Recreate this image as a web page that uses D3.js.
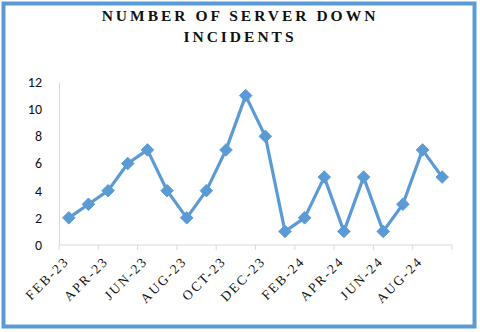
<!DOCTYPE html>
<html>
<head>
<meta charset="utf-8">
<script src="https://cdn.jsdelivr.net/npm/d3@7"></script>
<style>
  body { margin: 0; background: #fff; }
</style>
</head>
<body>
<svg id="chart" width="480" height="332"></svg>
<script>
// monthly incident counts, Feb 2023 .. Sep 2024
let months = ["FEB-23", "MAR-23", "APR-23", "MAY-23", "JUN-23", "JUL-23", "AUG-23", "SEP-23",
    "OCT-23", "NOV-23", "DEC-23", "JAN-24", "FEB-24", "MAR-24", "APR-24", "MAY-24",
    "JUN-24", "JUL-24", "AUG-24", "SEP-24"];
let incidents = [2, 3, 4, 6, 7, 4, 2, 4, 7, 11, 8, 1, 2, 5, 1, 5, 1, 3, 7, 5];
let yTicks = [0, 2, 4, 6, 8, 10, 12];
let titleLines = ["NUMBER OF SERVER DOWN", "INCIDENTS"];

let blue = "#5b9bd5";
let svg = d3.select("#chart");

// outer frame
svg.append("rect")
    .attr("x", 3.5).attr("y", 3.5)
    .attr("width", 471).attr("height", 323)
    .attr("fill", "#fff")
    .attr("stroke", blue)
    .attr("stroke-width", 4);

svg.append("g")
    .selectAll("text")
    .data(titleLines)
    .enter()
    .append("text")
    .attr("x", 240)
    .attr("y", function (d, i) { return 21 + i * 21; })
    .attr("text-anchor", "middle")
    .style("font-family", "'Liberation Serif', 'Times New Roman', serif")
    .style("font-weight", "bold")
    .style("font-size", "15.5px")
    .style("letter-spacing", "3px")
    .style("fill", "#111")
    .text(function (d) { return d; });

let x = d3.scaleBand().domain(months).range([59, 452]);
let y = d3.scaleLinear().domain([0, 12]).range([245, 82]);

// y axis line + labels
let yAxis = svg.append("g")
    .attr("transform", "translate(59,0)")
    .call(d3.axisLeft(y).tickValues(yTicks).tickSize(0).tickPadding(17));
yAxis.select(".domain").attr("stroke", "#d9d9d9");
yAxis.selectAll("text")
    .style("font-family", "Carlito, 'Liberation Sans', Arial, sans-serif")
    .style("font-size", "14px")
    .style("fill", "#111");

// x axis: tick marks every other month (between categories)
let xAxis = svg.append("g").attr("transform", "translate(0,245)");
xAxis.append("line")
    .attr("x1", 59).attr("x2", 452)
    .attr("stroke", "#d9d9d9");
let tickMonths = months.filter(function (d, i) { return i % 2 === 0; });
xAxis.selectAll("line.tick")
    .data(tickMonths.concat(["end"]))
    .enter()
    .append("line")
    .attr("class", "tick")
    .attr("x1", function (d) { return d === "end" ? 452 : x(d); })
    .attr("x2", function (d) { return d === "end" ? 452 : x(d); })
    .attr("y1", 0).attr("y2", 5)
    .attr("stroke", "#d9d9d9");

xAxis.selectAll("text")
    .data(tickMonths)
    .enter()
    .append("text")
    .attr("transform", function (d) {
        return "translate(" + (x(d) + x.bandwidth() / 2 + 1) + ",17) rotate(-45)";
    })
    .attr("text-anchor", "end")
    .style("font-family", "'Liberation Serif', 'Times New Roman', serif")
    .style("font-size", "13.5px")
    .style("letter-spacing", "2px")
    .style("fill", "#111")
    .text(function (d) { return d; });

let line = d3.line()
    .x(function (d, i) { return x(months[i]) + x.bandwidth() / 2; })
    .y(function (d) { return y(d); });

svg.append("path")
    .datum(incidents)
    .attr("d", line)
    .attr("fill", "none")
    .attr("stroke", blue)
    .attr("stroke-width", 3.2)
    .attr("stroke-linejoin", "round");

svg.append("g")
    .selectAll("path")
    .data(incidents)
    .enter()
    .append("path")
    .attr("d", d3.symbol().type(d3.symbolDiamond2).size(100))
    .attr("transform", function (d, i) {
        return "translate(" + (x(months[i]) + x.bandwidth() / 2) + "," + y(d) + ")";
    })
    .attr("fill", blue)
    .attr("stroke", blue)
    .attr("stroke-width", 1);
</script>
</body>
</html>
